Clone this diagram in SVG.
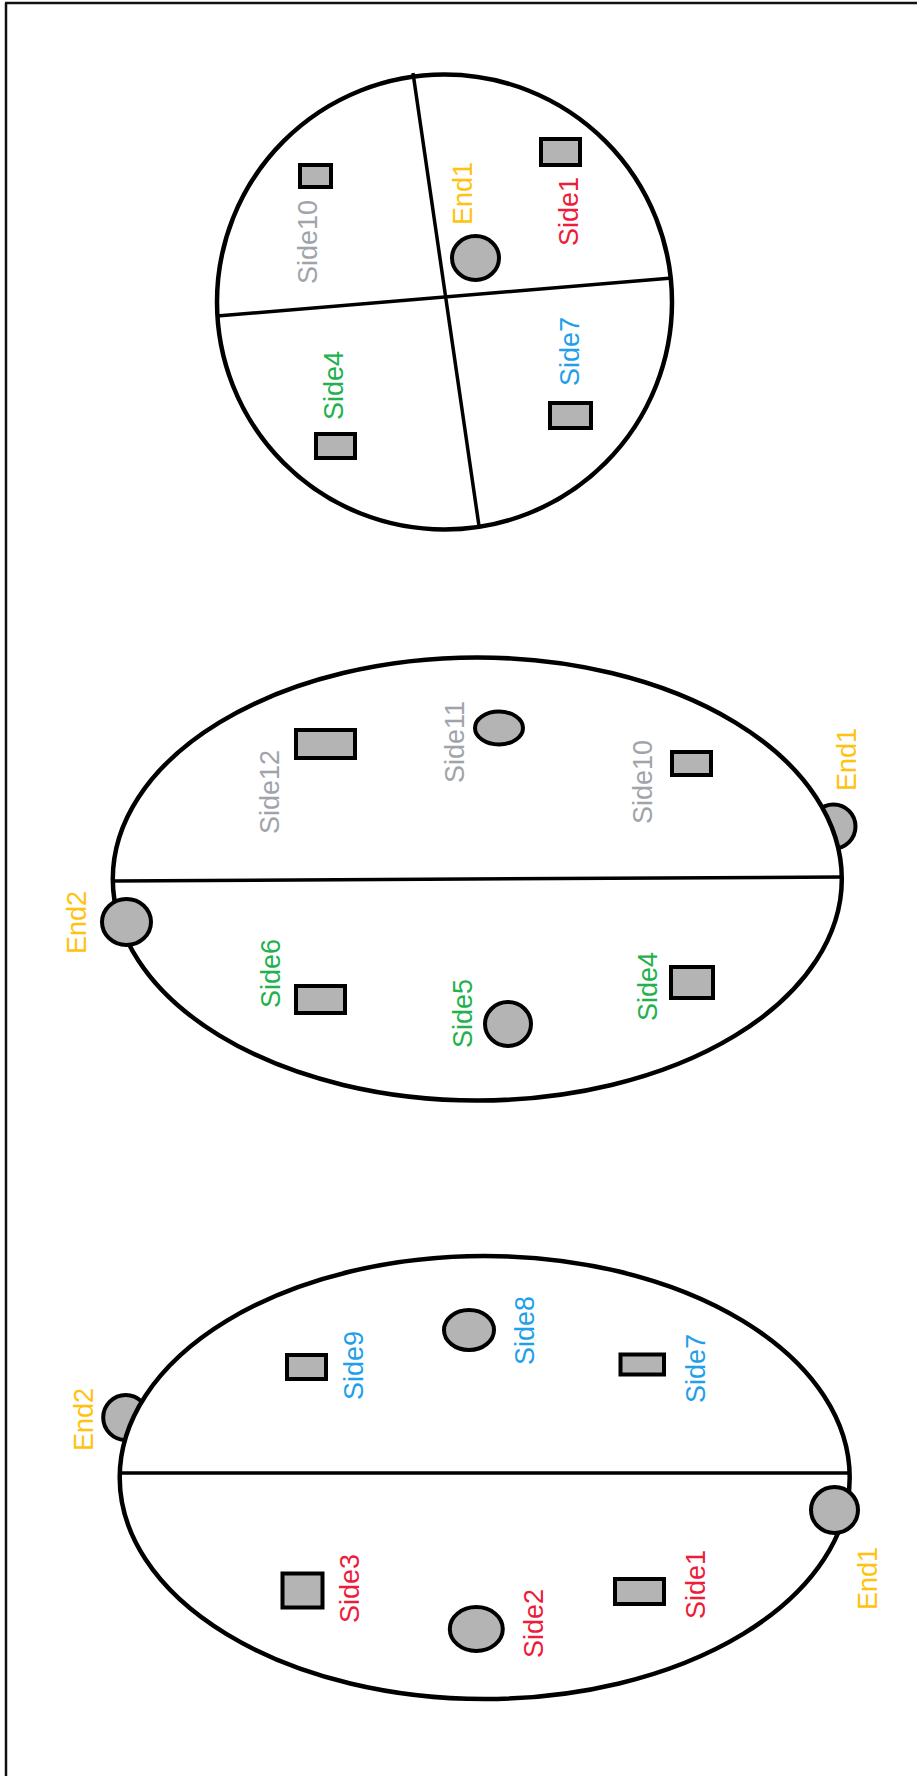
<svg xmlns="http://www.w3.org/2000/svg" width="917" height="1776" viewBox="0 0 917 1776">
<style>
.outline{fill:#ffffff;stroke:#000000;stroke-width:4.5}
.div{stroke:#000000;stroke-width:3.5;fill:none}
.shape{fill:#b4b4b4;stroke:#000000;stroke-width:4}
.lbl{font-family:"Liberation Sans",Arial,sans-serif;font-size:27px}
.grey{fill:#a0a4aa}
.green{fill:#22b14c}
.red{fill:#ed1c3a}
.blue{fill:#1fa0ea}
.orange{fill:#ffc20e}
</style>
<rect x="0" y="0" width="917" height="1776" fill="#ffffff"/>
<g id="frame" stroke="#111111" stroke-width="2.5" fill="none">
<line x1="6" y1="3" x2="6" y2="1776"/>
<line x1="5" y1="3" x2="917" y2="3"/>
</g>

<!-- nodes partly hidden behind outlines -->
<g id="mid-end1"><circle class="shape" cx="833.5" cy="826.5" r="22"/><text class="lbl orange" transform="translate(856,791) rotate(-90)">End1</text></g>
<g id="bot-end2"><circle class="shape" cx="125.7" cy="1417.5" r="22.5"/><text class="lbl orange" transform="translate(93,1451) rotate(-90)">End2</text></g>

<!-- outlines -->
<g id="view-top"><circle class="outline" cx="444.5" cy="302" r="227.5"/></g>
<g id="view-middle"><ellipse class="outline" cx="477.3" cy="879" rx="364.5" ry="221.5"/></g>
<g id="view-bottom"><ellipse class="outline" cx="484.7" cy="1477.5" rx="365" ry="221.5"/></g>

<g id="connectors">
<line class="div" x1="413" y1="73" x2="479" y2="526"/>
<line class="div" x1="217" y1="316" x2="672" y2="278"/>
<line class="div" x1="112" y1="881" x2="843" y2="877"/>
<line class="div" x1="119" y1="1473" x2="851" y2="1473"/>
</g>

<!-- top circle nodes -->
<g id="top-side10"><rect class="shape" x="300" y="165" width="31" height="22"/><text class="lbl grey" transform="translate(317,284) rotate(-90)">Side10</text></g>
<g id="top-end1"><ellipse class="shape" cx="475.5" cy="258" rx="23.5" ry="22"/><text class="lbl orange" transform="translate(472,225) rotate(-90)">End1</text></g>
<g id="top-side1"><rect class="shape" x="541" y="139" width="39" height="26"/><text class="lbl red" transform="translate(578,246) rotate(-90)">Side1</text></g>
<g id="top-side4"><rect class="shape" x="316" y="434" width="39" height="24"/><text class="lbl green" transform="translate(343,420) rotate(-90)">Side4</text></g>
<g id="top-side7"><rect class="shape" x="550" y="403" width="41" height="25"/><text class="lbl blue" transform="translate(579,386) rotate(-90)">Side7</text></g>

<!-- middle ellipse nodes -->
<g id="mid-end2"><ellipse class="shape" cx="126.5" cy="922" rx="24.5" ry="23"/><text class="lbl orange" transform="translate(86,954) rotate(-90)">End2</text></g>
<g id="mid-side12"><rect class="shape" x="296" y="730" width="59" height="28"/><text class="lbl grey" transform="translate(279,834) rotate(-90)">Side12</text></g>
<g id="mid-side11"><ellipse class="shape" cx="499" cy="728" rx="24" ry="16.5"/><text class="lbl grey" transform="translate(464,783) rotate(-90)">Side11</text></g>
<g id="mid-side10"><rect class="shape" x="672" y="752" width="39" height="23"/><text class="lbl grey" transform="translate(652,824) rotate(-90)">Side10</text></g>
<g id="mid-side6"><rect class="shape" x="296" y="986" width="49" height="27"/><text class="lbl green" transform="translate(280,1008) rotate(-90)">Side6</text></g>
<g id="mid-side5"><ellipse class="shape" cx="508" cy="1024" rx="23" ry="22"/><text class="lbl green" transform="translate(472,1048) rotate(-90)">Side5</text></g>
<g id="mid-side4"><rect class="shape" x="671" y="967" width="42" height="31"/><text class="lbl green" transform="translate(657,1021) rotate(-90)">Side4</text></g>

<!-- bottom ellipse nodes -->
<g id="bot-end1"><ellipse class="shape" cx="834.5" cy="1510" rx="23.5" ry="23"/><text class="lbl orange" transform="translate(877,1610) rotate(-90)">End1</text></g>
<g id="bot-side9"><rect class="shape" x="287" y="1355" width="39" height="24"/><text class="lbl blue" transform="translate(363,1400) rotate(-90)">Side9</text></g>
<g id="bot-side8"><ellipse class="shape" cx="469" cy="1330" rx="25" ry="20"/><text class="lbl blue" transform="translate(534,1365) rotate(-90)">Side8</text></g>
<g id="bot-side7"><rect class="shape" x="620.5" y="1354.5" width="43.5" height="20"/><text class="lbl blue" transform="translate(705,1403) rotate(-90)">Side7</text></g>
<g id="bot-side3"><rect class="shape" x="282.5" y="1573.5" width="40" height="34"/><text class="lbl red" transform="translate(359,1623) rotate(-90)">Side3</text></g>
<g id="bot-side2"><ellipse class="shape" cx="476.3" cy="1629" rx="26.5" ry="22"/><text class="lbl red" transform="translate(543,1658) rotate(-90)">Side2</text></g>
<g id="bot-side1"><rect class="shape" x="615" y="1579" width="49" height="25"/><text class="lbl red" transform="translate(705,1619) rotate(-90)">Side1</text></g>
</svg>
